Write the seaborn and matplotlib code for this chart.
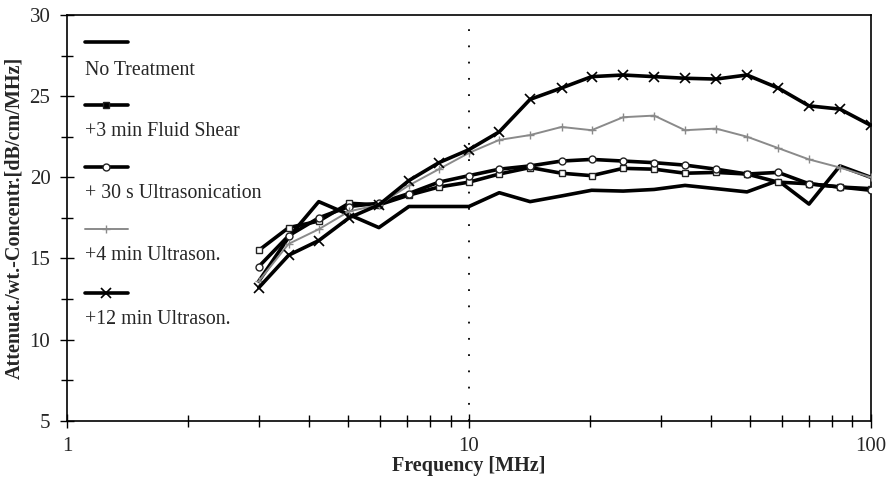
import numpy as np
import pandas as pd
import matplotlib
matplotlib.use("Agg")
import matplotlib.pyplot as plt
import seaborn as sns
from matplotlib.ticker import FixedLocator, NullFormatter, FixedFormatter

# ---- data ----
freq = [3.0, 3.56, 4.23, 5.03, 5.97, 7.09, 8.42, 10.0, 11.9, 14.2, 17.0,
        20.2, 24.2, 28.9, 34.5, 41.2, 49.2, 58.8, 70.2, 83.8, 100.0]
no_treatment = [13.6, 16.3, 18.5, 17.7, 16.9, 18.2, 18.2, 18.2, 19.05, 18.5, 18.85,
                19.2, 19.15, 19.25, 19.5, 19.3, 19.1, 19.8, 18.35, 20.7, 20.0]
fluid_shear = [15.5, 16.9, 17.3, 18.4, 18.3, 18.9, 19.4, 19.7, 20.2, 20.6, 20.25,
               20.1, 20.55, 20.5, 20.25, 20.3, 20.2, 19.7, 19.6, 19.4, 19.3]
us_30s = [14.5, 16.4, 17.5, 18.2, 18.4, 19.0, 19.7, 20.1, 20.5, 20.7, 21.0,
          21.1, 21.0, 20.9, 20.75, 20.5, 20.2, 20.3, 19.6, 19.4, 19.2]
us_4min = [13.6, 15.9, 16.8, 17.9, 18.3, 19.5, 20.5, 21.5, 22.3, 22.6, 23.1,
           22.9, 23.7, 23.8, 22.9, 23.0, 22.5, 21.8, 21.1, 20.6, 20.0]
us_12min = [13.2, 15.2, 16.1, 17.5, 18.3, 19.8, 20.9, 21.7, 22.8, 24.8, 25.5,
            26.2, 26.3, 26.2, 26.1, 26.05, 26.3, 25.5, 24.4, 24.2, 23.2]

labels = ["No Treatment", "+3 min Fluid Shear", "+ 30 s Ultrasonication",
          "+4 min Ultrason.", "+12 min Ultrason."]
series = [no_treatment, fluid_shear, us_30s, us_4min, us_12min]

y_ticks = [5, 10, 15, 20, 25, 30]
x_ticks = [1, 10, 100]
x_ticklabels = ["1", "10", "100"]

# ---- style ----
sns.set_style("white")
plt.rcParams["font.family"] = ["Liberation Serif", "DejaVu Serif"]

styles = [
    dict(color="black", lw=2.6, marker=None),
    dict(color="black", lw=2.6, marker="s", ms=4.5, mfc="white", mec="#222222", mew=1.0),
    dict(color="black", lw=2.6, marker="o", ms=5, mfc="white", mec="#222222", mew=1.0),
    dict(color="#8a8a8a", lw=1.4, marker="+", ms=6, mec="#8a8a8a", mew=1.0),
    dict(color="black", lw=2.6, marker="x", ms=7, mec="black", mew=1.2),
]
legend_mfc = [None, "black", "white", None, None]

fig = plt.figure(figsize=(8.94, 4.82), dpi=100)
ax = fig.add_axes([0.075, 0.127, 0.899, 0.842])

for vals, lab, st in zip(series, labels, styles):
    kw = {k: v for k, v in st.items() if k not in ("color", "lw", "marker")}
    sns.lineplot(x=freq, y=vals, ax=ax, color=st["color"], linewidth=st["lw"],
                 marker=st["marker"], legend=False, markersize=kw.get("ms", 0),
                 markerfacecolor=kw.get("mfc", st["color"]),
                 markeredgecolor=kw.get("mec", st["color"]),
                 markeredgewidth=kw.get("mew", 1.0), zorder=3)

ax.set_xscale("log")
ax.set_xlim(1, 100)
ax.set_ylim(5, 30)

# dotted reference at 10 MHz
ax.axvline(10, color="black", lw=1.3, linestyle=(0, (1, 8)), zorder=1)

# ticks
ax.xaxis.set_major_locator(FixedLocator(x_ticks))
ax.xaxis.set_major_formatter(FixedFormatter(x_ticklabels))
ax.xaxis.set_minor_locator(FixedLocator([2, 3, 4, 5, 6, 7, 8, 9, 20, 30, 40, 50, 60, 70, 80, 90]))
ax.xaxis.set_minor_formatter(NullFormatter())
ax.yaxis.set_major_locator(FixedLocator(y_ticks))
ax.yaxis.set_minor_locator(FixedLocator([7.5, 12.5, 17.5, 22.5, 27.5]))
ax.tick_params(axis="both", which="both", direction="inout", color="black", width=1.0,
               bottom=True, left=True, top=False, right=False)
ax.tick_params(axis="both", which="major", length=10, labelsize=15)
ax.tick_params(axis="both", which="minor", length=9)
ax.tick_params(axis="x", which="major", pad=7)
ax.tick_params(axis="y", which="major", pad=7)

for sp in ax.spines.values():
    sp.set_visible(True)
    sp.set_color("black")
    sp.set_linewidth(1.2)

ax.set_xlabel("Frequency [MHz]", fontsize=14.5, fontweight="bold", labelpad=0)
ax.set_ylabel("Attenuat./wt.-Concentr.[dB/cm/MHz]", fontsize=14.5, fontweight="bold", labelpad=4)

# legend drawn manually: sample line above, label below
sample_y = [0.933, 0.778, 0.625, 0.472, 0.316]
label_y = [0.864, 0.714, 0.560, 0.407, 0.249]
for st, lab, sy, ly, lmfc in zip(styles, labels, sample_y, label_y, legend_mfc):
    kw = {k: v for k, v in st.items() if k not in ("color", "lw", "marker")}
    if lmfc is not None:
        kw["mfc"] = lmfc
    ax.plot([0.022, 0.049, 0.076], [sy, sy, sy], transform=ax.transAxes,
            color=st["color"], lw=st["lw"], marker=st["marker"] if st["marker"] else None,
            markevery=[1], clip_on=False, **kw)
    ax.text(0.022, ly, lab, transform=ax.transAxes, fontsize=14.3,
            va="center", ha="left")

fig.savefig("out.png", dpi=100, facecolor="white")
